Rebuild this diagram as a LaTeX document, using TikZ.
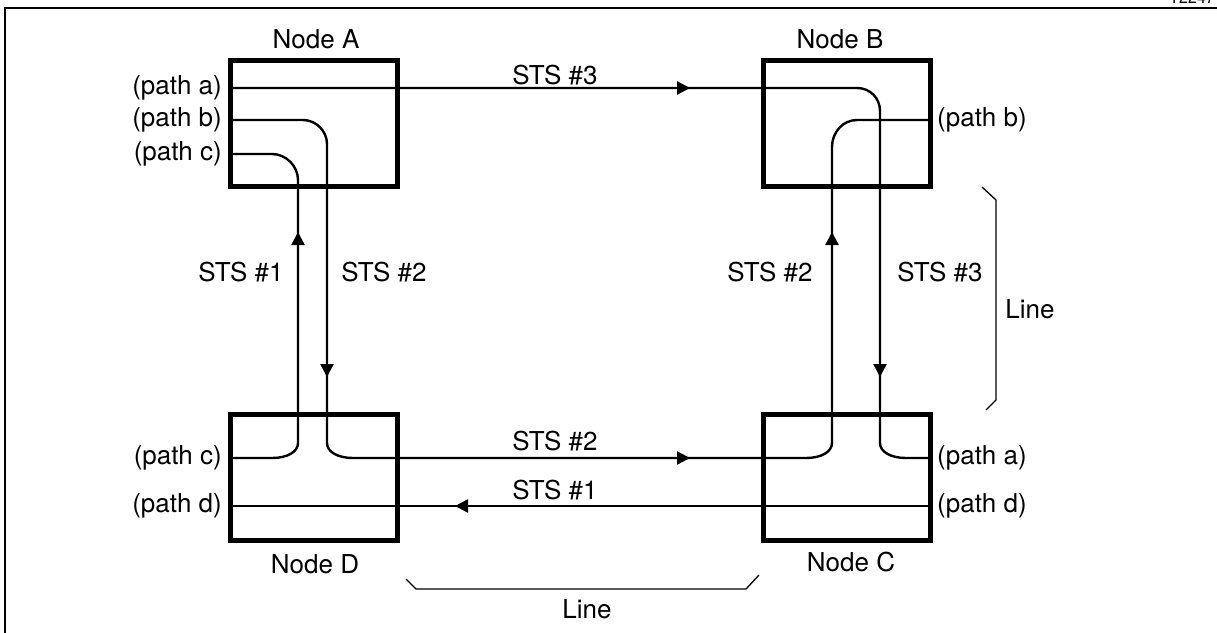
\documentclass[tikz,border=0pt]{standalone}
\usepackage{fontspec}
\setmainfont{TeX Gyre Heros}
\usetikzlibrary{arrows.meta}
\begin{document}
\begin{tikzpicture}[x=1pt,y=-1pt,
  box/.style={draw,line width=5pt,minimum width=167pt,minimum height=126pt,inner sep=0pt,outer sep=0pt},
  sig/.style={line width=2.4pt},
  tip/.style={line width=2.4pt,-{Triangle[length=13pt,width=13pt]}},
  lbl/.style={font=\fontsize{26}{30}\selectfont,inner sep=0pt},
  brace/.style={line width=1.3pt},
  frame/.style={line width=2.7pt}]
\useasboundingbox (0,0) rectangle (1217,632);
% frame
\draw[frame] (1217,8) -- (5,8) -- (5,640);
\node[font=\fontsize{16}{18}\selectfont,inner sep=0pt,anchor=south east] (fig) at (1215,4) {T2247};
% boxes
\node[box] (A) at (313.5,123) {};
\node[box] (B) at (847,123) {};
\node[box] (D) at (313.5,477.5) {};
\node[box] (C) at (847,477.5) {};
% path a
\draw[sig] (A.west |- 0,88) -- (857,88) .. controls (870,88) and (880,98) .. (880,111) -- (880,443) .. controls (880,452) and (891,458) .. (906,458) -- (C.east |- 0,458);
% path b
\draw[sig] (A.west |- 0,120) -- (303,120) .. controls (316,120) and (327,131) .. (327,144) -- (327,443) .. controls (327,452) and (338,458) .. (353,458) -- (806,458) .. controls (821,458) and (832,452) .. (832,443) -- (832,147) .. controls (832,132) and (843,120) .. (857,120) -- (B.east |- 0,120);
% path c
\draw[sig] (A.west |- 0,154) -- (272,154) .. controls (286,154) and (298,166) .. (298,180) -- (298,443) .. controls (298,452) and (287,458) .. (272,458) -- (D.west |- 0,458);
% path d
\draw[sig] (C.east |- 0,506) -- (D.west |- 0,506);
% arrow heads
\draw[tip] (676,88) -- (690,88);
\draw[tip] (298,246) -- (298,232);
\draw[tip] (327,363) -- (327,377);
\draw[tip] (832,246) -- (832,232);
\draw[tip] (880,363) -- (880,377);
\draw[tip] (676,458) -- (690,458);
\draw[tip] (469,506) -- (455,506);
% node labels
\node[lbl,anchor=base] (la) at (316,48) {Node A};
\node[lbl,anchor=base] (lb) at (840,48) {Node B};
\node[lbl,anchor=base] (ld) at (315,573) {Node D};
\node[lbl,anchor=base] (lc) at (851,571) {Node C};
% path labels
\node[lbl,anchor=east] (pa) at (222,88) {(path a)};
\node[lbl,anchor=east] (pb) at (222,120) {(path b)};
\node[lbl,anchor=east] (pc) at (222,154) {(path c)};
\node[lbl,anchor=west] (pbb) at (937,120) {(path b)};
\node[lbl,anchor=east] (pcd) at (222,458) {(path c)};
\node[lbl,anchor=east] (pdd) at (222,506) {(path d)};
\node[lbl,anchor=west] (pac) at (937,458) {(path a)};
\node[lbl,anchor=west] (pdc) at (937,506) {(path d)};
% STS labels
\node[lbl] (s3t) at (555,75) {STS \#3};
\node[lbl] (s1l) at (241,272) {STS \#1};
\node[lbl] (s2l) at (384,272) {STS \#2};
\node[lbl] (s2r) at (770,272) {STS \#2};
\node[lbl] (s3r) at (940,272) {STS \#3};
\node[lbl] (s2b) at (555,441) {STS \#2};
\node[lbl] (s1b) at (555,490) {STS \#1};
% braces
\draw[brace] (982,187) -- (996,200) -- (996,400) -- (986,410);
\node[lbl] (lr) at (1030,309) {Line};
\draw[brace] (406,579) -- (416,589) -- (746,589) -- (759,575);
\node[lbl] (lbt) at (587,609) {Line};
\end{tikzpicture}
\end{document}
